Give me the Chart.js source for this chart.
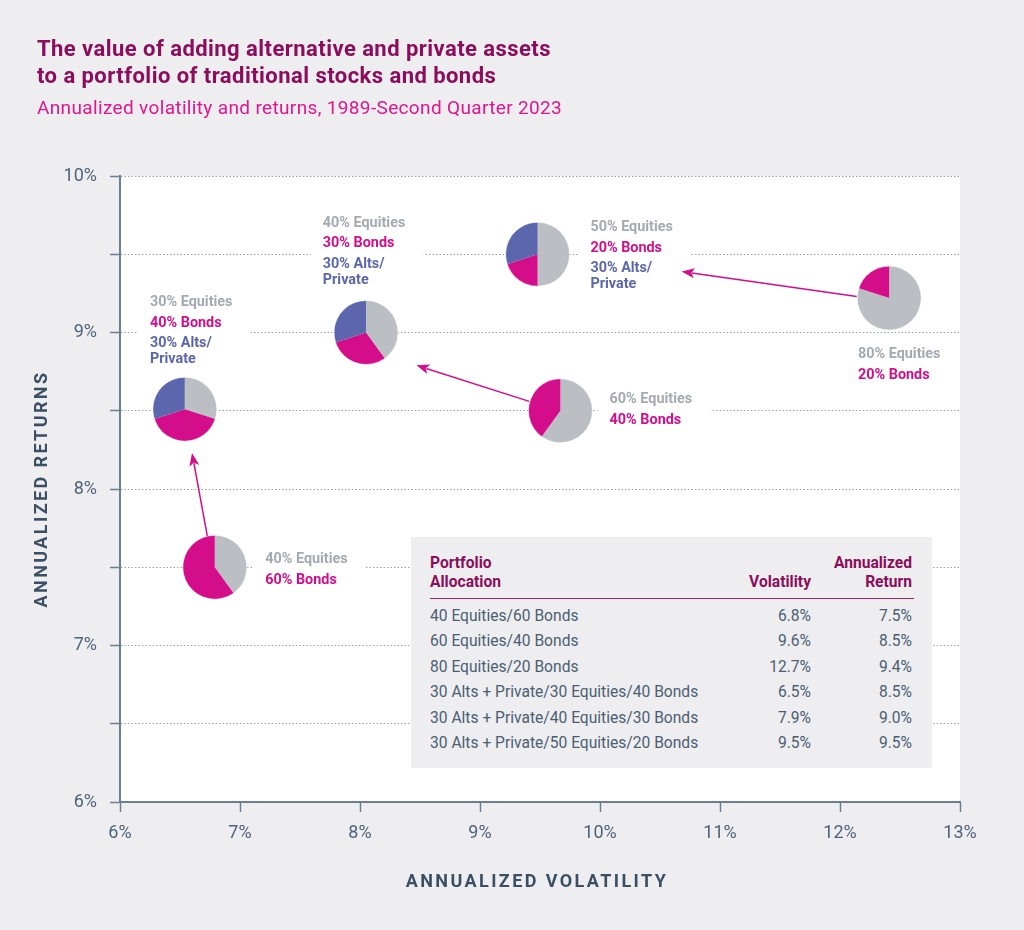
<!DOCTYPE html>
<html>
<head>
<meta charset="utf-8">
<script src="https://cdn.jsdelivr.net/npm/chart.js@4/dist/chart.umd.min.js"></script>
<style>
  html, body { margin: 0; padding: 0; background: #eeedf0; }
  body { width: 1024px; height: 930px; position: relative; overflow: hidden; font-family: Roboto, "Noto Sans", sans-serif; }
  #chart { position: absolute; left: 0; top: 0; }
  .title { position: absolute; left: 37px; top: 35px; font-size: 22px; line-height: 27px; font-weight: 700; letter-spacing: 0.45px; color: #8b0d5b; }
  .subtitle { position: absolute; left: 37px; top: 97px; font-size: 19px; line-height: 22px; letter-spacing: 0.35px; color: #e0168c; }
  #tbl { position: absolute; left: 411px; top: 537px; width: 521px; height: 231px; background: #eeedf0; }
  #tbl .head { position: absolute; left: 19px; top: 17px; width: 484px; height: 44px; border-bottom: 1.5px solid #a0226e; color: #8b0d5b; font-weight: 700; font-size: 15.6px; line-height: 19px; }
  #tbl .row { position: absolute; left: 19px; width: 484px; height: 25.4px; line-height: 25.4px; font-size: 15.6px; color: #4b5f73; }
  #tbl span { position: absolute; top: 0; }
  #tbl .c1 { left: 0; }
  #tbl .c2 { right: 103px; text-align: right; }
  #tbl .c3 { right: 2px; text-align: right; }
</style>
</head>
<body>
<canvas id="chart" width="1024" height="930"></canvas>
<div class="title">The value of adding alternative and private assets<br>to a portfolio of traditional stocks and bonds</div>
<div class="subtitle">Annualized volatility and returns, 1989-Second Quarter 2023</div>
<div id="tbl">
  <div class="head"><span class="c1">Portfolio<br>Allocation</span><span class="c2" style="top:19px">Volatility</span><span class="c3">Annualized<br>Return</span></div>
</div>
<script>
// table values
const portfolios = [
  '40 Equities/60 Bonds',
  '60 Equities/40 Bonds',
  '80 Equities/20 Bonds',
  '30 Alts + Private/30 Equities/40 Bonds',
  '30 Alts + Private/40 Equities/30 Bonds',
  '30 Alts + Private/50 Equities/20 Bonds'
];
const tableVolatility = ['6.8%', '9.6%', '12.7%', '6.5%', '7.9%', '9.5%'];
const tableReturn = ['7.5%', '8.5%', '9.4%', '8.5%', '9.0%', '9.5%'];

// where the pies sit on the chart
const pieVolatility = [6.79, 9.67, 12.41, 6.54, 8.05, 9.48];
const pieReturn = [7.5, 8.5, 9.22, 8.51, 9.0, 9.5];
const equityShare = [40, 60, 80, 30, 40, 50];
const bondShare = [60, 40, 20, 40, 30, 20];
const altShare = [0, 0, 0, 30, 30, 30];

// pie labels: anchor in axis units
const labelX = [7.21, 10.08, 12.15, 6.25, 7.69, 9.92];
const labelY = [7.55, 8.57, 8.86, 9.19, 9.70, 9.67];

// arrows between portfolios (axis units)
const arrowFromX = [6.73, 9.41, 12.14];
const arrowFromY = [7.69, 8.56, 9.23];
const arrowToX = [6.60, 8.47, 10.68];
const arrowToY = [8.23, 8.79, 9.39];

const xTitle = 'ANNUALIZED VOLATILITY';
const yTitle = 'ANNUALIZED RETURNS';

const COL_EQ = '#bbbec2', COL_BD = '#d40d8b', COL_ALT = '#5b66ad';
const TXT_EQ = '#a2aab2';

// build table rows
const tbl = document.getElementById('tbl');
portfolios.forEach((p, i) => {
  const r = document.createElement('div');
  r.className = 'row';
  r.style.top = (67 + i * 25.4) + 'px';
  r.innerHTML = '<span class="c1">' + p + '</span><span class="c2">' + tableVolatility[i] +
    '</span><span class="c3">' + tableReturn[i] + '</span>';
  tbl.appendChild(r);
});

function labelGroups(i) {
  const g = [[equityShare[i] + '% Equities', TXT_EQ], [bondShare[i] + '% Bonds', COL_BD]];
  if (altShare[i]) g.push([altShare[i] + '% Alts/', COL_ALT, 'Private']);
  return g;
}

const FAMILY = 'Roboto, "Noto Sans", sans-serif';
const LABEL_FONT = 'bold 14.4px ' + FAMILY;

function labelLines(chart, i) {
  const x = chart.scales.x.getPixelForValue(labelX[i]);
  let y = chart.scales.y.getPixelForValue(labelY[i]);
  const lines = [];
  labelGroups(i).forEach((g, k) => {
    if (k > 0) y += 20.5;
    lines.push({ text: g[0], color: g[1], x, y });
    if (g[2]) { y += 16; lines.push({ text: g[2], color: g[1], x, y }); }
  });
  return lines;
}

const piePlugin = {
  id: 'pies',
  beforeDraw(chart) {
    const { ctx, chartArea: a } = chart;
    ctx.save();
    ctx.fillStyle = '#ffffff';
    ctx.fillRect(a.left, a.top, a.right - a.left, a.bottom - a.top);
    ctx.restore();
  },
  beforeDatasetsDraw(chart) {
    // white boxes behind the labels break the dotted grid
    const ctx = chart.ctx;
    ctx.save();
    ctx.font = LABEL_FONT;
    ctx.fillStyle = '#ffffff';
    portfolios.forEach((p, i) => {
      const lines = labelLines(chart, i);
      let w = 0;
      lines.forEach(l => { w = Math.max(w, ctx.measureText(l.text).width); });
      const top = lines[0].y - 12, bottom = lines[lines.length - 1].y + 12;
      ctx.fillRect(lines[0].x - 12, top, w + 30, bottom - top);
    });
    ctx.restore();
  },
  afterDatasetsDraw(chart) {
    const ctx = chart.ctx, xs = chart.scales.x, ys = chart.scales.y;
    // arrows
    ctx.save();
    ctx.strokeStyle = COL_BD;
    ctx.fillStyle = COL_BD;
    ctx.lineWidth = 1.5;
    arrowFromX.forEach((v, i) => {
      const x1 = xs.getPixelForValue(v), y1 = ys.getPixelForValue(arrowFromY[i]);
      const x2 = xs.getPixelForValue(arrowToX[i]), y2 = ys.getPixelForValue(arrowToY[i]);
      const ang = Math.atan2(y2 - y1, x2 - x1);
      const hl = 13, hw = 5;
      ctx.beginPath();
      ctx.moveTo(x1, y1);
      ctx.lineTo(x2 - Math.cos(ang) * hl * 0.8, y2 - Math.sin(ang) * hl * 0.8);
      ctx.stroke();
      ctx.beginPath();
      ctx.moveTo(x2, y2);
      ctx.lineTo(x2 - Math.cos(ang) * hl - Math.sin(ang) * hw, y2 - Math.sin(ang) * hl + Math.cos(ang) * hw);
      ctx.lineTo(x2 - Math.cos(ang) * hl * 0.75, y2 - Math.sin(ang) * hl * 0.75);
      ctx.lineTo(x2 - Math.cos(ang) * hl + Math.sin(ang) * hw, y2 - Math.sin(ang) * hl - Math.cos(ang) * hw);
      ctx.closePath();
      ctx.fill();
    });
    ctx.restore();

    // pies at the scatter points
    const meta = chart.getDatasetMeta(0);
    meta.data.forEach((pt, i) => {
      const shares = [[equityShare[i], COL_EQ], [bondShare[i], COL_BD], [altShare[i], COL_ALT]];
      let start = -Math.PI / 2;
      const r = 32;
      ctx.save();
      shares.forEach(s => {
        if (!s[0]) return;
        const end = start + s[0] / 100 * Math.PI * 2;
        ctx.beginPath();
        ctx.moveTo(pt.x, pt.y);
        ctx.arc(pt.x, pt.y, r, start, end);
        ctx.closePath();
        ctx.fillStyle = s[1];
        ctx.fill();
        start = end;
      });
      ctx.beginPath();
      ctx.arc(pt.x, pt.y, r, 0, Math.PI * 2);
      ctx.strokeStyle = 'rgba(255,255,255,0.6)';
      ctx.lineWidth = 1;
      ctx.stroke();
      ctx.restore();
    });

    // labels
    ctx.save();
    ctx.font = LABEL_FONT;
    ctx.textAlign = 'left';
    ctx.textBaseline = 'middle';
    portfolios.forEach((p, i) => {
      labelLines(chart, i).forEach(l => {
        ctx.fillStyle = l.color;
        ctx.fillText(l.text, l.x, l.y);
      });
    });
    ctx.restore();
  },
  afterDraw(chart) {
    // spaced-out axis titles
    const { ctx, chartArea: a } = chart;
    ctx.save();
    ctx.font = 'bold 18px ' + FAMILY;
    ctx.fillStyle = '#3a4f64';
    ctx.textAlign = 'center';
    ctx.textBaseline = 'middle';
    if ('letterSpacing' in ctx) ctx.letterSpacing = '2.4px';
    ctx.fillText(xTitle, (a.left + a.right) / 2 - 3, a.bottom + 80);
    ctx.translate(42, (a.top + a.bottom) / 2);
    ctx.rotate(-Math.PI / 2);
    ctx.fillText(yTitle, 0, 0);
    ctx.restore();
  }
};

const axisColor = '#6c7f91';
const tickFont = { family: FAMILY, size: 18 };

new Chart(document.getElementById('chart'), {
  type: 'scatter',
  data: {
    datasets: [{
      data: pieVolatility.map((v, i) => ({ x: v, y: pieReturn[i] })),
      pointRadius: 0,
      pointHoverRadius: 0
    }]
  },
  options: {
    responsive: false,
    animation: false,
    events: [],
    layout: { padding: { top: 176, right: 64, bottom: 0, left: 0 } },
    plugins: { legend: { display: false }, tooltip: { enabled: false } },
    scales: {
      x: {
        type: 'linear', min: 6, max: 13,
        afterFit(s) { s.height = 128; },
        ticks: { stepSize: 1, callback: v => v + '%', font: tickFont, color: '#4f6479', padding: 11 },
        grid: { drawOnChartArea: false, tickLength: 10, tickColor: axisColor, tickWidth: 1.5 },
        border: { color: axisColor, width: 2 }
      },
      y: {
        type: 'linear', min: 6, max: 10,
        afterFit(s) { s.width = 120; },
        ticks: { stepSize: 0.5, callback: v => (v % 1 === 0 ? v + '%' : ''), font: tickFont, color: '#4f6479', padding: 13 },
        grid: { color: '#95a2b0', lineWidth: 1, tickLength: 10, tickColor: axisColor, tickWidth: 1.5, tickBorderDash: [] },
        border: { color: axisColor, width: 2, dash: [1.5, 2] }
      }
    }
  },
  plugins: [piePlugin]
});
</script>
</body>
</html>
